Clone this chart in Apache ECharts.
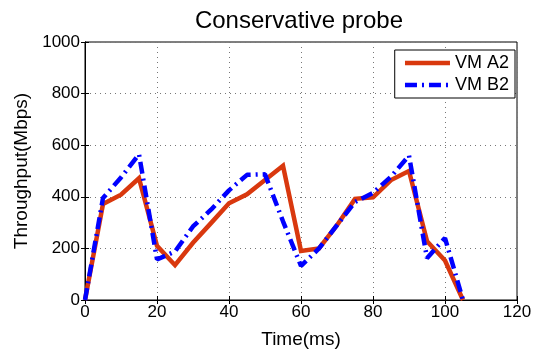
<!DOCTYPE html>
<html>
<head>
<meta charset="utf-8">
<script src="https://cdn.jsdelivr.net/npm/echarts@6/dist/echarts.min.js"></script>
<style>
  html, body { margin: 0; padding: 0; background: #fff; }
  #chart { width: 538px; height: 354px; }
</style>
</head>
<body>
<div id="chart"></div>
<script>
const timeMs = [0, 5, 10, 15, 20, 25, 30, 35, 40, 45, 50, 55, 60, 65, 70, 75, 80, 85, 90, 95, 100, 105];
const vmA2 = [0, 372, 408, 472, 210, 135, 222, 298, 375, 410, 465, 520, 190, 200, 290, 392, 398, 465, 500, 228, 153, 0];
const vmB2 = [0, 395, 475, 565, 157, 188, 285, 350, 425, 485, 487, 305, 132, 200, 290, 380, 415, 478, 560, 162, 240, 0];

const font = 'Liberation Sans, Arial, sans-serif';
const chart = echarts.init(document.getElementById('chart'));

const pairs = arr => timeMs.map((t, i) => [t, arr[i]]);
const dotted = { show: true, lineStyle: { color: '#777', type: [1, 4], width: 1 } };
const frameAxis = { show: true, lineStyle: { color: '#000' } };
const inTick = { inside: true, length: 4, lineStyle: { color: '#000' } };

chart.setOption({
  animation: false,
  title: {
    text: 'Conservative probe',
    left: 294, top: 4, textAlign: 'center',
    textStyle: { fontFamily: font, fontSize: 24, fontWeight: 'normal', color: '#000' }
  },
  grid: { left: 85, right: 21, top: 42, bottom: 49, show: true, borderColor: '#000', borderWidth: 1 },
  legend: {
    orient: 'vertical',
    right: 23, top: 50,
    backgroundColor: '#fff',
    borderColor: '#000', borderWidth: 1,
    padding: [4, 6, 4, 8],
    itemWidth: 45, itemHeight: 10, itemGap: 4,
    itemStyle: { opacity: 0 },
    lineStyle: { width: 4.5 },
    textStyle: { fontFamily: font, fontSize: 18, color: '#000' },
    data: ['VM A2', 'VM B2']
  },
  xAxis: [{
    type: 'value', min: 0, max: 120, interval: 20,
    name: 'Time(ms)', nameLocation: 'middle', nameGap: 30,
    nameTextStyle: { fontFamily: font, fontSize: 19, color: '#000' },
    axisLine: frameAxis, axisTick: inTick,
    axisLabel: { fontFamily: font, fontSize: 17, color: '#000', margin: 4 },
    splitLine: dotted
  }, {
    type: 'value', min: 0, max: 120, interval: 20, position: 'top',
    axisLine: frameAxis, axisTick: inTick,
    axisLabel: { show: false }, splitLine: { show: false }
  }],
  yAxis: [{
    type: 'value', min: 0, max: 1000, interval: 200,
    name: 'Throughput(Mbps)', nameLocation: 'middle', nameGap: 47,
    nameTextStyle: { fontFamily: font, fontSize: 19, color: '#000' },
    axisLine: frameAxis, axisTick: inTick,
    axisLabel: { fontFamily: font, fontSize: 17, color: '#000', margin: 5, formatter: v => String(v) },
    splitLine: dotted
  }, {
    type: 'value', min: 0, max: 1000, interval: 200, position: 'right',
    axisLine: frameAxis, axisTick: inTick,
    axisLabel: { show: false }, splitLine: { show: false }
  }],
  series: [{
    name: 'VM A2', type: 'line', data: pairs(vmA2),
    symbol: 'none', showSymbol: false,
    itemStyle: { color: '#d9380e' },
    lineStyle: { color: '#d9380e', width: 4.5, join: 'miter' }
  }, {
    name: 'VM B2', type: 'line', data: pairs(vmB2),
    symbol: 'none', showSymbol: false,
    itemStyle: { color: '#0000ff' },
    lineStyle: { color: '#0000ff', width: 4.5, type: [12, 5, 2, 5] }
  }]
});
</script>
</body>
</html>
